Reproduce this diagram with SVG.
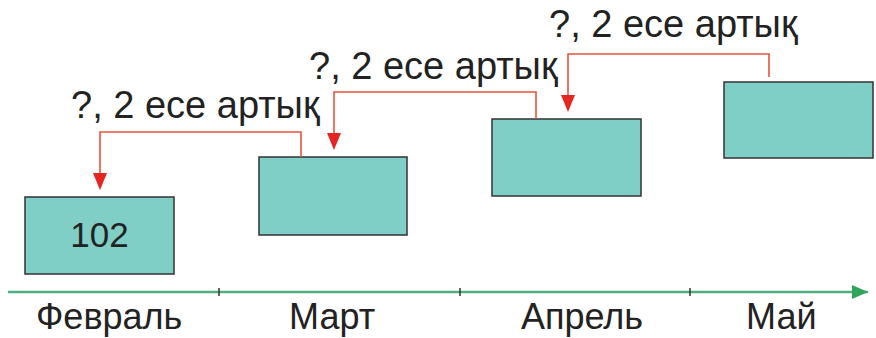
<svg xmlns="http://www.w3.org/2000/svg" width="876" height="338" viewBox="0 0 876 338">
<style>
.box{fill:#7fcfc6;stroke:#333;stroke-width:1.5}
.lbl{font-family:"Liberation Sans",Arial,sans-serif;font-size:38px;fill:#222}
.mon{font-family:"Liberation Sans",Arial,sans-serif;font-size:36px;fill:#222}
.num{font-family:"Liberation Sans",Arial,sans-serif;font-size:35px;fill:#222}
.con{fill:none;stroke:#e9533b;stroke-width:1.6}
.tick{stroke:#333;stroke-width:1.5}
</style>
<defs>
<marker id="ga" viewBox="0 0 16 14" refX="16" refY="7" markerWidth="16" markerHeight="14" markerUnits="userSpaceOnUse" orient="auto">
<path d="M0,0 L16,7 L0,14 Z" fill="#2ea55a"/>
</marker>
</defs>
<g id="axis">
<line x1="8" y1="292" x2="868" y2="292" stroke="#4fb07e" stroke-width="2.5" marker-end="url(#ga)"/>
<line class="tick" x1="219" y1="288" x2="219" y2="296"/>
<line class="tick" x1="460" y1="288" x2="460" y2="296"/>
<line class="tick" x1="690" y1="288" x2="690" y2="296"/>
</g>
<g id="feb"><rect class="box" x="25" y="197" width="149" height="77"/><text class="num" x="99.5" y="247" text-anchor="middle">102</text></g>
<g id="mar"><rect class="box" x="259" y="157" width="148" height="78"/></g>
<g id="apr"><rect class="box" x="492" y="119" width="149" height="77"/></g>
<g id="may"><rect class="box" x="724" y="82" width="149" height="76"/></g>
<g id="connectors">
<path class="con" d="M301,157 V132 H100 V174" />
<path d="M93,173 L107,173 L100,190 Z" fill="#e52521"/>
<path class="con" d="M536,119 V92 H334 V134" />
<path d="M327,133 L341,133 L334,150 Z" fill="#e52521"/>
<path class="con" d="M769,77 V54 H568 V96" />
<path d="M561,95 L575,95 L568,112 Z" fill="#e52521"/>
</g>
<g id="labels">
<text class="lbl" x="71" y="118">?, 2 есе артық</text>
<text class="lbl" x="309" y="79">?, 2 есе артық</text>
<text class="lbl" x="549" y="37">?, 2 есе артық</text>
<text class="mon" x="36" y="329">Февраль</text>
<text class="mon" x="289" y="329">Март</text>
<text class="mon" x="521" y="329">Апрель</text>
<text class="mon" x="746" y="329">Май</text>
</g>
</svg>
